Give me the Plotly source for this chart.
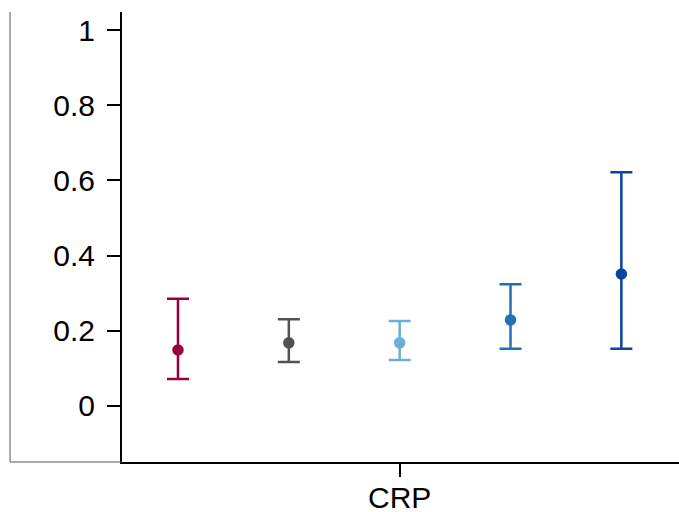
import plotly.graph_objects as go

categories = ["CRP"]
groups = ["g1", "g2", "g3", "g4", "g5"]
offsets = [-2, -1, 0, 1, 2]
estimates = [0.149, 0.168, 0.168, 0.229, 0.351]
upper = [0.285, 0.231, 0.226, 0.324, 0.622]
lower = [0.072, 0.117, 0.122, 0.152, 0.152]
colors = ["#990040", "#525252", "#6baed6", "#2171b5", "#08459c"]
y_ticks = [0, 0.2, 0.4, 0.6, 0.8, 1]
y_tick_labels = ["0", "0.2", "0.4", "0.6", "0.8", "1"]

fig = go.Figure()
for g, xo, est, up, lo, c in zip(groups, offsets, estimates, upper, lower, colors):
    fig.add_trace(go.Scatter(
        x=[xo], y=[est], mode="markers", name=g,
        marker=dict(color=c, size=11.5),
        error_y=dict(type="data", symmetric=False, array=[up - est], arrayminus=[est - lo],
                     color=c, thickness=2.5, width=11),
        showlegend=False,
    ))

fig.update_layout(
    width=679, height=512,
    margin=dict(l=122, r=0, t=12, b=50),
    paper_bgcolor="white", plot_bgcolor="white",
    font=dict(family="Liberation Sans, Arial, sans-serif", size=30, color="black"),
    xaxis=dict(range=[-2.505, 2.52], tickvals=[0], ticktext=categories, automargin=False,
               ticklabelstandoff=-5,
               showgrid=False, zeroline=False, showline=True, linecolor="black", linewidth=2,
               ticks="outside", ticklen=13, tickwidth=2, tickcolor="black", fixedrange=True),
    yaxis=dict(range=[-0.149, 1.048], tickvals=y_ticks, ticktext=y_tick_labels, automargin=False,
               ticklabelstandoff=6,
               showgrid=False, zeroline=False, showline=True, linecolor="black", linewidth=2,
               ticks="outside", ticklen=13, tickwidth=2, tickcolor="black", fixedrange=True),
    shapes=[
        dict(type="line", xref="paper", yref="paper", x0=-0.201, x1=-0.201, y0=0, y1=1,
             line=dict(color="#555555", width=1)),
        dict(type="line", xref="paper", yref="paper", x0=-0.201, x1=0, y0=0, y1=0,
             line=dict(color="#555555", width=1)),
    ],
)

fig.write_html("out.html", config={"displayModeBar": False},
               post_script="document.body.style.margin='0';document.body.style.overflow='hidden';")
